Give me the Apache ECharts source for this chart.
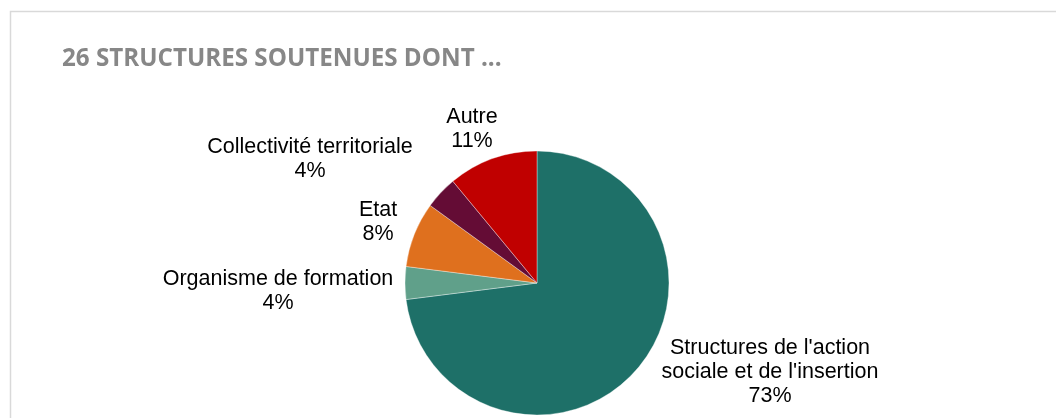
<!DOCTYPE html>
<html>
<head>
<meta charset="utf-8">
<script src="https://cdn.jsdelivr.net/npm/echarts@6/dist/echarts.min.js"></script>
<style>
html,body{margin:0;padding:0;background:#fff;}
#c{width:1056px;height:418px;}
</style>
</head>
<body>
<div id="c"></div>
<script>
const titleText = "26 STRUCTURES SOUTENUES DONT ...";
const categories = ["Structures de l'action\nsociale et de l'insertion", "Organisme de formation", "Etat", "Collectivité territoriale", "Autre"];
const values = [73, 4, 8, 4, 11];

const colors = ["#1e7068", "#60a08a", "#df701e", "#640c35", "#c00000"];
const labelPos = [[770, 372], [278, 291], [378, 222], [310, 159], [472, 129]];

const chart = echarts.init(document.getElementById('c'), null, {renderer: 'canvas'});
chart.setOption({
  animation: false,
  backgroundColor: '#fff',
  graphic: [{
    type: 'rect',
    shape: {x: 10.5, y: 11.5, width: 1200, height: 600},
    style: {fill: 'none', stroke: '#d9d9d9', lineWidth: 1.5},
    silent: true, z: -1
  }],
  title: {
    text: titleText,
    left: 57, top: 42,
    textStyle: {fontFamily: 'Open Sans', fontWeight: 'bold', fontSize: 24.2, color: '#878787'}
  },
  series: [{
    type: 'pie',
    center: [537, 283],
    radius: 132,
    startAngle: 90,
    clockwise: true,
    data: categories.map((n, i) => ({name: n, value: values[i], itemStyle: {color: colors[i]}})),
    itemStyle: {borderColor: 'rgba(255,255,255,0.6)', borderWidth: 0.6},
    label: {
      show: true,
      position: 'outside',
      formatter: p => p.name + '\n' + Math.round(p.percent) + '%',
      fontFamily: 'Liberation Sans',
      fontSize: 21.5,
      lineHeight: 24,
      color: '#000',
      align: 'center'
    },
    labelLine: {show: false},
    labelLayout: p => ({x: labelPos[p.dataIndex][0], y: labelPos[p.dataIndex][1], align: 'center', verticalAlign: 'middle'})
  }]
});
</script>
</body>
</html>
